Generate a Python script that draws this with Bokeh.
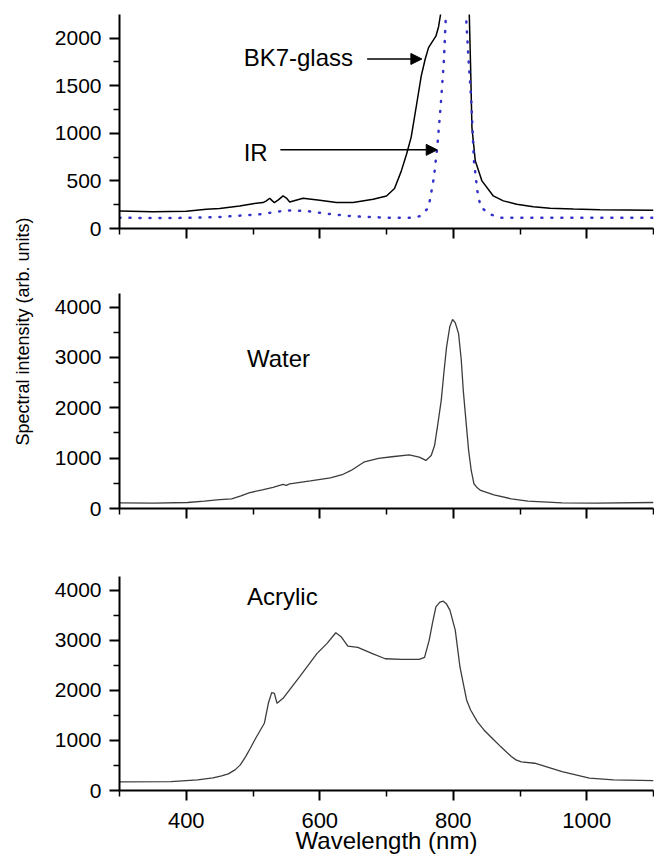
import math
from bokeh.plotting import figure
from bokeh.models import Range1d, FixedTicker, Label, Arrow, NormalHead
from bokeh.layouts import column, row
from bokeh.embed import file_html
from bokeh.resources import INLINE

FONT = "Liberation Sans"

# ---- data ----
bk7_x = [300, 350, 400, 430, 450, 480, 500, 515, 520, 525, 529, 532, 538, 545, 550, 555, 575, 600,
         625, 650, 680, 700, 712, 722, 730, 737, 746, 752, 758, 763, 768, 774, 778, 781, 792, 803,
         814, 824, 826, 828, 833, 843, 860, 875, 895, 920, 945, 980, 1020, 1100]
bk7_y = [184, 177, 181, 202, 209, 237, 261, 272, 290, 318, 290, 272, 300, 342, 320, 279, 318, 297,
         272, 272, 307, 342, 420, 600, 780, 960, 1342, 1600, 1781, 1900, 1956, 2020, 2120, 2250, 4000, 5000,
         4000, 2250, 1700, 1061, 711, 500, 342, 290, 255, 228, 213, 205, 198, 192]

ir_x = [300, 350, 400, 450, 510, 550, 580, 610, 650, 700, 740, 751, 763, 771, 776, 781, 786,
        789, 804, 819, 823, 827, 831, 836, 841, 855, 870, 950, 1100]
ir_y = [114, 110, 112, 121, 149, 191, 184, 156, 128, 114, 114, 132, 219, 535, 851, 1272, 1764,
        2250, 8000, 2250, 1764, 1342, 711, 400, 225, 150, 114, 112, 114]

water_x = [300, 351, 402, 427, 450, 468, 482, 494, 514, 530, 545, 550, 555, 586, 616, 635, 647, 667,
           688, 708, 734, 749, 759, 767, 772, 777, 782, 786, 790, 795, 799, 803, 808, 812, 815, 819,
           823, 827, 831, 836, 841, 861, 887, 912, 963, 1014, 1100]
water_y = [113, 106, 119, 146, 175, 192, 250, 312, 371, 420, 477, 460, 491, 550, 610, 680, 756, 928,
           995, 1028, 1067, 1021, 955, 1054, 1250, 1684, 2148, 2700, 3209, 3620, 3753, 3690, 3474, 2950,
           2347, 1750, 1154, 750, 491, 410, 358, 272, 192, 146, 113, 106, 119]

acrylic_x = [300, 377, 417, 440, 453, 463, 473, 481, 489, 496, 504, 517, 523, 528, 532, 536, 545,
             570, 596, 611, 624, 632, 642, 657, 678, 698, 723, 749, 757, 764, 769, 774, 780, 785,
             790, 795, 803, 810, 815, 820, 826, 836, 846, 861, 871, 887, 894, 902, 922, 963, 1004,
             1040, 1100]
acrylic_y = [173, 179, 212, 250, 292, 332, 412, 511, 677, 843, 1042, 1341, 1740, 1952, 1939, 1740,
             1839, 2271, 2736, 2935, 3147, 3068, 2882, 2855, 2736, 2629, 2616, 2616, 2656, 3001, 3350,
             3665, 3760, 3778, 3720, 3599, 3200, 2470, 2138, 1806, 1607, 1374, 1208, 1009, 876, 677,
             611, 571, 544, 378, 246, 212, 199]

x_major = [400, 600, 800, 1000]
x_minor = [300, 500, 700, 900, 1100]
y1_major = [0, 500, 1000, 1500, 2000]
y1_minor = [250, 750, 1250, 1750]
y2_major = [0, 1000, 2000, 3000, 4000]
y2_minor = [500, 1500, 2500, 3500]

LAB_W = 36
W = 618


def make_fig(height, top, bottom, y_end, y_major, y_minor, show_x_labels):
    p = figure(width=W, height=height, x_range=Range1d(300, 1100), y_range=Range1d(0, y_end),
               output_backend="svg", toolbar_location=None,
               min_border_left=83, min_border_right=1, min_border_top=top, min_border_bottom=bottom)
    p.outline_line_color = None
    p.grid.visible = False
    p.background_fill_color = "white"
    for ax in (p.xaxis[0], p.yaxis[0]):
        ax.axis_line_width = 2
        ax.axis_line_color = "black"
        ax.major_tick_line_width = 2
        ax.minor_tick_line_width = 1.5
        ax.major_tick_line_color = "black"
        ax.minor_tick_line_color = "black"
        ax.major_tick_in = 0
        ax.major_tick_out = 10
        ax.minor_tick_in = 0
        ax.minor_tick_out = 6
        ax.major_label_text_font = FONT
        ax.major_label_text_color = "black"
        ax.axis_label_text_font = FONT
        ax.axis_label_text_font_style = "normal"
        ax.axis_label_text_color = "black"
    p.xaxis.ticker = FixedTicker(ticks=x_major, minor_ticks=x_minor)
    p.yaxis.ticker = FixedTicker(ticks=y_major, minor_ticks=y_minor)
    p.yaxis.major_label_text_font_size = "21px"
    p.yaxis.major_label_standoff = 8
    if show_x_labels:
        p.xaxis.major_label_text_font_size = "22px"
        p.xaxis.major_label_standoff = 12
        p.xaxis.axis_label = "Wavelength (nm)"
        p.xaxis.axis_label_text_font_size = "24px"
        p.xaxis.axis_label_standoff = -4
    else:
        p.xaxis.major_label_text_font_size = "1px"
        p.xaxis.major_label_overrides = {t: "" for t in x_major}
    return p


f1 = make_fig(258, 14, 30, 2248, y1_major, y1_minor, False)
f1.line(bk7_x, bk7_y, line_color="black", line_width=1.5)
f1.line(ir_x, ir_y, line_color="#3232c8", line_width=2.5, line_dash="1 9", line_cap="round")
f1.add_layout(Label(x=486, y=1798, text="BK7-glass", text_font=FONT, text_font_size="24px",
                    text_baseline="alphabetic", text_align="left", text_color="black"))
f1.add_layout(Label(x=486, y=798, text="IR", text_font=FONT, text_font_size="24px",
                    text_baseline="alphabetic", text_align="left", text_color="black"))
f1.add_layout(Arrow(end=NormalHead(size=11, fill_color="black", line_color="black"),
                    x_start=671, y_start=1781, x_end=753, y_end=1781, line_width=1.5))
f1.add_layout(Arrow(end=NormalHead(size=11, fill_color="black", line_color="black"),
                    x_start=541, y_start=826, x_end=776, y_end=826, line_width=1.5))

f2 = make_fig(280, 35, 30, 4270, y2_major, y2_minor, False)
f2.line(water_x, water_y, line_color="#3c3c3c", line_width=1.3)
f2.add_layout(Label(x=491, y=2976, text="Water", text_font=FONT, text_font_size="24px",
                    text_baseline="alphabetic", text_align="left", text_color="black"))

f3 = make_fig(324, 38, 72, 4270, y2_major, y2_minor, True)
f3.line(acrylic_x, acrylic_y, line_color="#3c3c3c", line_width=1.3)
f3.add_layout(Label(x=491, y=3865, text="Acrylic", text_font=FONT, text_font_size="24px",
                    text_baseline="alphabetic", text_align="left", text_color="black"))

TOTAL_H = 258 + 280 + 324
lab = figure(width=LAB_W, height=TOTAL_H, x_range=Range1d(0, LAB_W), y_range=Range1d(0, TOTAL_H),
             output_backend="svg", toolbar_location=None, min_border=0,
             x_axis_location=None, y_axis_location=None)
lab.outline_line_color = None
lab.grid.visible = False
lab.add_layout(Label(x=22, y=TOTAL_H - 331, text="Spectral intensity (arb. units)", angle=math.pi / 2,
                     text_align="center", text_baseline="middle", text_font=FONT,
                     text_font_size="18px", text_color="black"))

layout = row(lab, column(f1, f2, f3))
open("out.html", "w").write(file_html(layout, INLINE))
